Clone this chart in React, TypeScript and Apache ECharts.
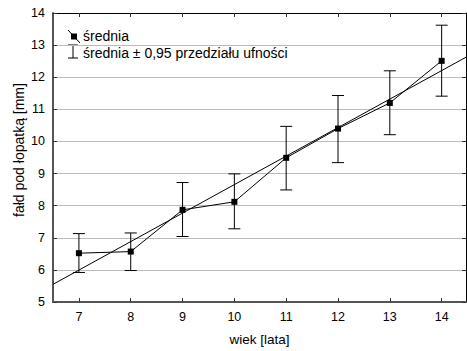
import React, { useEffect, useRef } from "react";
import * as echarts from "echarts";

const ages = [7, 8, 9, 10, 11, 12, 13, 14];
const means = [6.52, 6.57, 7.87, 8.12, 9.49, 10.4, 11.2, 12.51];
const lower = [5.92, 5.98, 7.04, 7.28, 8.49, 9.34, 10.21, 11.41];
const upper = [7.13, 7.15, 8.72, 8.99, 10.47, 11.43, 12.2, 13.62];
const regX = [6.5, 14.5];
const regY = [5.55, 12.65];

const FONT = "Liberation Sans, Arial, sans-serif";

export default function App() {
  const ref = useRef<HTMLDivElement>(null);
  useEffect(() => {
    if (!ref.current) return;
    const chart = echarts.init(ref.current, null, { renderer: "svg" });
    const axisLineDark = { show: true, lineStyle: { color: "#555", width: 2 } };
    chart.setOption({
      animation: false,
      backgroundColor: "#fff",
      grid: { left: 53, top: 13, right: 1, bottom: 48, containLabel: false },
      xAxis: [
        {
          type: "value",
          min: 6.5,
          max: 14.47,
          position: "bottom",
          name: "wiek [lata]",
          nameLocation: "middle",
          nameGap: 30,
          nameTextStyle: { fontFamily: FONT, fontSize: 13.5, color: "#000" },
          axisLine: axisLineDark,
          axisTick: { show: true, inside: true, length: 4, customValues: ages, lineStyle: { color: "#333" } },
          axisLabel: { customValues: ages, fontFamily: FONT, fontSize: 12.5, color: "#000", margin: 8 },
          splitLine: { show: false },
        },
        {
          type: "value",
          min: 6.5,
          max: 14.47,
          position: "top",
          axisLine: { show: true, lineStyle: { color: "#000", width: 1 } },
          axisTick: { show: true, inside: true, length: 4, customValues: ages, lineStyle: { color: "#333" } },
          axisLabel: { show: false },
          splitLine: { show: false },
        },
      ],
      yAxis: [
        {
          type: "value",
          min: 5,
          max: 14,
          interval: 1,
          axisLine: axisLineDark,
          axisTick: { show: true, inside: true, length: 4, lineStyle: { color: "#333" } },
          axisLabel: { fontFamily: FONT, fontSize: 12.5, color: "#000", margin: 8 },
          splitLine: { show: true, lineStyle: { color: "#bbb", width: 1 } },
        },
        {
          type: "value",
          min: 5,
          max: 14,
          interval: 1,
          position: "right",
          axisLine: { show: true, lineStyle: { color: "#000", width: 1 } },
          axisTick: { show: true, inside: true, length: 4, lineStyle: { color: "#333" } },
          axisLabel: { show: false },
          splitLine: { show: false },
        },
      ],
      series: [
        {
          type: "line",
          data: regX.map((x, i) => [x, regY[i]]),
          showSymbol: false,
          symbol: "none",
          lineStyle: { color: "#000", width: 1 },
          clip: true,
          silent: true,
        },
        {
          type: "custom",
          data: ages.map((x, i) => [x, lower[i], upper[i]]),
          renderItem: (params: any, api: any) => {
            const x = api.value(0);
            const lo = api.coord([x, api.value(1)]);
            const hi = api.coord([x, api.value(2)]);
            const w = 6;
            const style = { stroke: "#000", lineWidth: 1 };
            return {
              type: "group",
              children: [
                { type: "line", shape: { x1: lo[0], y1: lo[1], x2: hi[0], y2: hi[1] }, style },
                { type: "line", shape: { x1: lo[0] - w, y1: lo[1], x2: lo[0] + w, y2: lo[1] }, style },
                { type: "line", shape: { x1: hi[0] - w, y1: hi[1], x2: hi[0] + w, y2: hi[1] }, style },
              ],
            };
          },
          silent: true,
        },
        {
          type: "line",
          data: ages.map((x, i) => [x, means[i]]),
          symbol: "rect",
          symbolSize: 6,
          itemStyle: { color: "#000" },
          lineStyle: { color: "#000", width: 1 },
          silent: true,
        },
      ],
      graphic: [
        {
          type: "text",
          x: 19,
          y: 150,
          rotation: Math.PI / 2,
          style: { text: "fałd pod łopatką [mm]", fontFamily: FONT, fontSize: 14, fill: "#000", align: "center", verticalAlign: "middle" },
        },
        { type: "line", shape: { x1: 68, y1: 30, x2: 80, y2: 43 }, style: { stroke: "#000", lineWidth: 1 } },
        { type: "rect", shape: { x: 71, y: 33.5, width: 6, height: 6 }, style: { fill: "#000" } },
        { type: "text", x: 83, y: 36, style: { text: "średnia", fontFamily: FONT, fontSize: 14, fill: "#000", verticalAlign: "middle" } },
        { type: "line", shape: { x1: 73, y1: 45, x2: 73, y2: 58 }, style: { stroke: "#000", lineWidth: 1 } },
        { type: "line", shape: { x1: 68, y1: 45, x2: 78, y2: 45 }, style: { stroke: "#000", lineWidth: 1 } },
        { type: "line", shape: { x1: 68, y1: 58, x2: 78, y2: 58 }, style: { stroke: "#000", lineWidth: 1 } },
        { type: "text", x: 83, y: 52.5, style: { text: "średnia ± 0,95 przedziału ufności", fontFamily: FONT, fontSize: 14, fill: "#000", verticalAlign: "middle" } },
      ],
    });
    return () => chart.dispose();
  }, []);
  return <div ref={ref} style={{ width: 467, height: 351, position: "absolute", left: 0, top: 0 }} />;
}
